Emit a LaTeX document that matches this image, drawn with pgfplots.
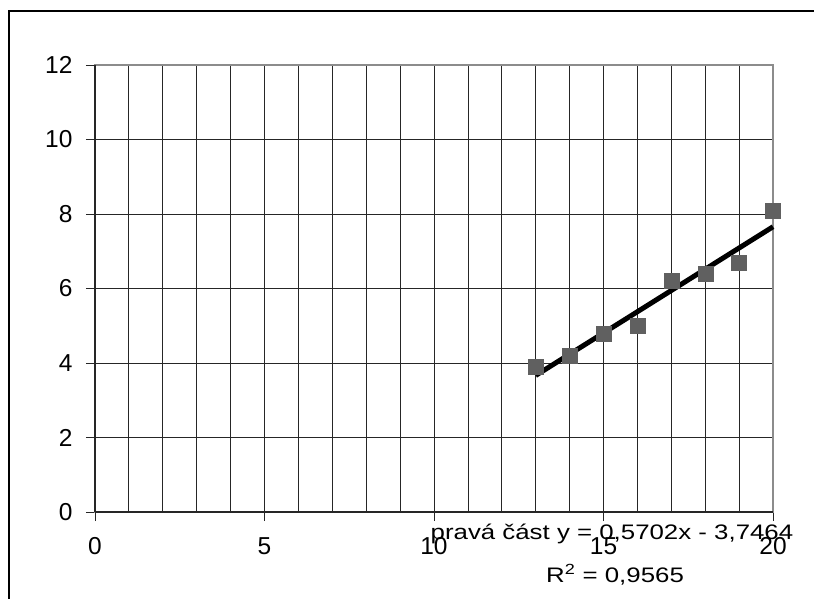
\documentclass[border=0pt]{standalone}
\usepackage{pgfplots}
\pgfplotsset{compat=1.18}
\usepackage{graphicx}
\usepackage{fontspec}
\setmainfont{Liberation Sans}
\definecolor{mk}{HTML}{606060}
\begin{document}
\begin{tikzpicture}
\useasboundingbox (-95pt,-86pt) rectangle (719pt,512pt);
\draw[black, line width=1.6pt] (-86pt,-95pt) -- (-86pt,501pt) -- (725pt,501pt);
\begin{axis}[at={(0pt,0pt)}, anchor=south west, scale only axis,
  width=678pt, height=447pt,
  xmin=0, xmax=20, ymin=0, ymax=12,
  xtick={0,5,...,20}, ytick={0,2,...,12},
  minor x tick num=4,
  grid=both,
  major grid style={black!85, line width=0.8pt},
  minor grid style={black!85, line width=0.8pt},
  minor tick length=0pt,
  major tick length=9pt,
  tick align=outside, tick pos=left,
  tick style={black!85, line width=0.8pt},
  axis line style={draw=black!45, line width=2pt},
  ticklabel style={font=\fontsize{24.5}{29}\selectfont},
  /pgf/number format/assume math mode=true,
  xticklabel style={yshift=-13pt},
  yticklabel style={xshift=-10pt},
  clip=false,
]
\addplot[only marks, mark=square*, mark size=7.5pt, mark options={fill=mk, draw=mk}] coordinates {
(13,3.9) (14,4.2) (15,4.8) (16,5.0) (17,6.2) (18,6.4) (19,6.7) (20,8.1)};
\addplot[black, line width=5pt] coordinates {(13,3.666) (20,7.6576)};
\draw[black!85, line width=1.2pt] (axis cs:0,0) -- (axis cs:20,0);
\draw[black!85, line width=1.2pt] (axis cs:0,0) -- (axis cs:0,12);
\node[anchor=base, font=\fontsize{21}{25}\selectfont, inner sep=0pt] at (axis cs:15.25,0) [yshift=-27pt] {\scalebox{1.23}[1]{pravá část y = 0,5702x - 3,7464}};
\node[anchor=base, font=\fontsize{21}{25}\selectfont, inner sep=0pt] at (axis cs:15.34,0) [yshift=-70pt] {\scalebox{1.23}[1]{R\textsuperscript{2} = 0,9565}};
\end{axis}
\end{tikzpicture}
\end{document}
